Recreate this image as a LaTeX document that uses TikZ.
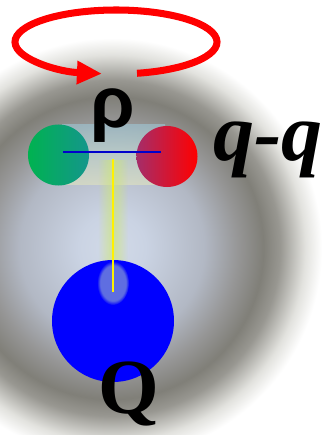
\documentclass[tikz,border=0pt]{standalone}
\usepackage{fontspec}
\setmainfont{Liberation Serif}
\newfontfamily\rhofont{Liberation Sans}
\usepackage{tikz}
\usetikzlibrary{arrows.meta, fadings}

\definecolor{haloin}{RGB}{210,218,232}
\definecolor{halolight}{RGB}{202,211,227}
\definecolor{halomid}{RGB}{178,184,196}
\definecolor{halogray}{RGB}{150,150,150}
\definecolor{halodark}{RGB}{128,127,120}
\definecolor{haloedge}{RGB}{152,151,145}
\definecolor{halofade}{RGB}{226,226,222}
\definecolor{qgreen}{RGB}{0,178,80}
\definecolor{qteal}{RGB}{20,150,140}
\definecolor{qred}{RGB}{255,0,0}
\definecolor{qplum}{RGB}{165,45,105}
\definecolor{bandtop}{RGB}{160,200,215}
\definecolor{bandbot}{RGB}{225,228,190}
\definecolor{glowcol}{RGB}{205,230,120}
\definecolor{spotcol}{RGB}{95,110,225}

\pgfdeclareradialshading{halo}{\pgfpoint{0bp}{0bp}}{color(0bp)=(haloin); color(4bp)=(halolight); color(11bp)=(halomid); color(15bp)=(halogray); color(18bp)=(halodark); color(20bp)=(haloedge); color(23bp)=(halofade); color(25bp)=(white); color(50bp)=(white)}
\tikzfading[name=stripfade, left color=transparent!100, right color=transparent!100, middle color=transparent!30]

\begin{document}
\begin{tikzpicture}[x=0.03cm, y=0.03cm,
	quark/.style={circle, inner sep=0pt, minimum size=1.83cm},
	heavy/.style={circle, inner sep=0pt, minimum size=3.66cm, fill=blue},
	spin/.style={qred, line width=6pt, -{Triangle[length=0.75cm, width=0.66cm]}},
	bond/.style={blue!80!black, line width=1.7pt},
	flux/.style={yellow, line width=1.7pt}]
	\useasboundingbox (0,0) rectangle (327,435);
	\clip (0,0) rectangle (327,435);
	\fill[white] (0,0) rectangle (327,435);
	\shade[shading=halo] (112,187) circle (210);
	
	\shade[top color=bandtop, bottom color=bandbot, opacity=0.6] (62,250) rectangle (165,310);
	\fill[glowcol, path fading=stripfade] (98,145) rectangle (128,275);
	
	\foreach \name/\x/\y/\lc/\rc in {
		qa/58.5/280/qgreen/qteal,
		qb/167/278.5/qplum/qred}{
		\node[quark, left color=\lc, right color=\rc] (\name) at (\x,\y) {};
	}
	\node[heavy] (hq) at (113,114) {};
	\fill[spotcol, path fading=circle with fuzzy edge 20 percent] (113,152) ellipse [x radius=16, y radius=22];
	
	\coordinate (la) at (63,283);
	\coordinate (lb) at (161,283);
	\coordinate (fa) at (113,276);
	\coordinate (fb) at (113,143);
	\draw[bond] (la) -- (lb);
	\draw[flux] (fa) -- (fb);
	
	\coordinate (spinc) at (116,393);
	\draw[spin] ([shift={(-78:101 and 32)}]spinc) arc[start angle=-78, end angle=262, x radius=101, y radius=32];
	
	\node[anchor=base, inner sep=0pt] (rho) at (113,308) {\rhofont\bfseries\fontsize{61.5}{62}\selectfont ρ};
	\node[anchor=base west, inner sep=0pt] (pair) at (213,274) {\bfseries\itshape\fontsize{70}{70}\selectfont q-q};
	\node[anchor=base, inner sep=0pt] (heavyq) at (128.5,21) {\bfseries\fontsize{66.6}{67}\selectfont Q};
\end{tikzpicture}
\end{document}
